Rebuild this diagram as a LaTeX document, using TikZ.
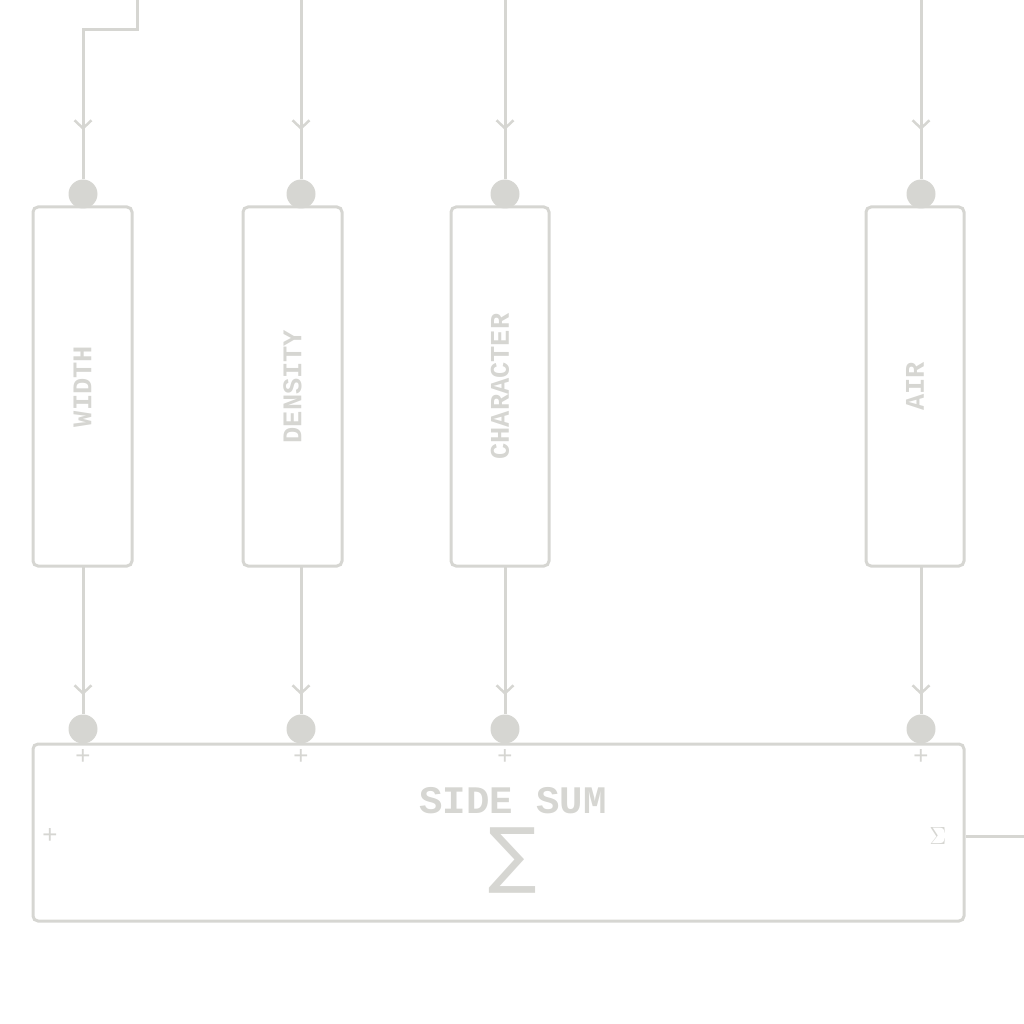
\documentclass[tikz,border=0pt]{standalone}
\usepackage{fontspec}
\setmonofont{Liberation Mono}
\newfontfamily\dejavu{DejaVu Sans}
\usetikzlibrary{arrows.meta}
\definecolor{g}{HTML}{D6D6D2}
\begin{document}
\begin{tikzpicture}[x=1pt,y=-1pt,
  wire/.style={draw=g,line width=3pt},
  box/.style={draw=g,line width=3pt,rounded corners=5pt,inner sep=0pt},
  dot/.style={circle,fill=g,minimum size=29pt,inner sep=0pt},
  lab/.style={text=g,font=\ttfamily\bfseries\fontsize{27}{27}\selectfont},
  tip/.style={-{Straight Barb[length=8pt,width=17pt,line width=2.5pt]}},
  sgn/.style={text=g,font=\ttfamily\fontsize{26}{26}\selectfont}]
\useasboundingbox (0,0) rectangle (1024,1024);
% boxes
\node[box,minimum width=99pt,minimum height=359pt] (w) at (82.5,386.5) {};
\node[box,minimum width=99pt,minimum height=359pt] (d) at (292.5,386.5) {};
\node[box,minimum width=98pt,minimum height=359pt] (c) at (500,386.5) {};
\node[box,minimum width=98pt,minimum height=359pt] (a) at (915,386.5) {};
\node[box,minimum width=931pt,minimum height=177pt] (s) at (498.5,832.5) {};
\node[lab,rotate=90] at (w) {WIDTH};
\node[lab,rotate=90] at (d) {DENSITY};
\node[lab,rotate=90] at (c) {CHARACTER};
\node[lab,rotate=90] at (a) {AIR};
\node[lab,font=\ttfamily\bfseries\fontsize{39}{39}\selectfont,inner sep=0pt] (st) at (513,801) {SIDE SUM};
\node[text=g,font=\dejavu\fontsize{72}{72}\selectfont,inner sep=0pt] (sig) at (513,861) {∑};
% dots
\foreach \n/\x in {w/83,d/301,c/505,a/921}{
  \node[dot] (t\n) at (\x,194) {};
  \node[dot] (b\n) at (\x,729) {};
  \node[sgn] at (\x,757) {+};
}
\node[sgn] (pl) at (50,836) {+};
\node[sgn] (so) at (938,836) {$\Sigma$};
% top wires
\coordinate (i1) at (137,0);
\draw[wire] (i1) -- (137,30) -- (83,30) -- (83,60);
\draw[wire,tip] (83,60) -- (83,130);
\draw[wire] (83,128) -- (tw);
\foreach \n/\x in {d/301,c/505,a/921}{
  \coordinate (i\n) at (\x,0);
  \draw[wire,tip] (i\n) -- (\x,130);
  \draw[wire] (\x,128) -- (t\n);
}
% bottom wires
\foreach \n/\x in {w/83,d/301,c/505,a/921}{
  \draw[wire,tip] (\x,566) -- (\x,695);
  \draw[wire] (\x,693) -- (b\n);
}
\coordinate (o) at (1024,836);
\draw[wire] (s.east |- o) -- (o);
\end{tikzpicture}
\end{document}
